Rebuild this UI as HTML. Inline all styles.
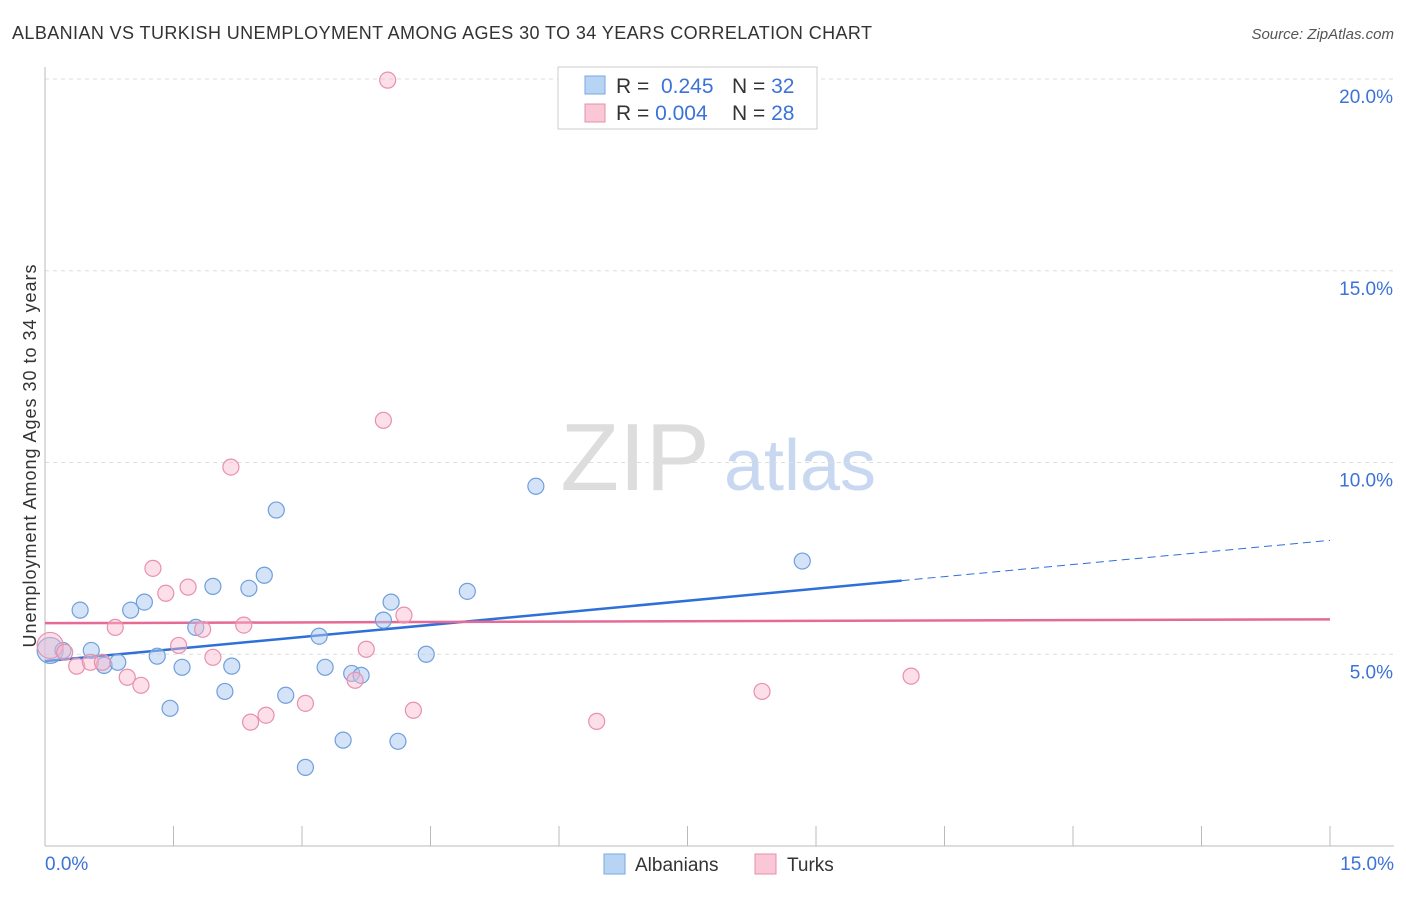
<!DOCTYPE html>
<html><head><meta charset="utf-8"><style>
body{margin:0;background:#fff;font-family:"Liberation Sans",sans-serif;}
svg text{font-family:"Liberation Sans",sans-serif;}
</style></head><body>
<svg id="chart" width="1406" height="892" xmlns="http://www.w3.org/2000/svg">
<text x="12" y="39" font-size="18" fill="#333" textLength="860" lengthAdjust="spacing">ALBANIAN VS TURKISH UNEMPLOYMENT AMONG AGES 30 TO 34 YEARS CORRELATION CHART</text>
<text x="1394" y="39" font-size="15" fill="#555" font-style="italic" text-anchor="end">Source: ZipAtlas.com</text>
<text x="36" y="456" font-size="18" fill="#333" text-anchor="middle" textLength="383" lengthAdjust="spacing" transform="rotate(-90 36 456)">Unemployment Among Ages 30 to 34 years</text>
<text x="635" y="490" font-size="96" fill="#ddd" font-family="Liberation Serif" text-anchor="middle">ZIP</text>
<text x="800" y="490" font-size="72" fill="#c8d8f0" text-anchor="middle">atlas</text>
<g id="grid"></g><g id="axes"></g><g id="trend"></g><g id="points"></g>
<g>
<rect x="558" y="67" width="259" height="62" fill="#fff" stroke="#ccc"/>
<rect x="585" y="76" width="20" height="18" fill="#b8d4f5" stroke="#7aa7e0"/>
<rect x="585" y="104" width="20" height="18" fill="#f9c7d6" stroke="#e78fab"/>
<text x="616" y="93" font-size="21" fill="#333">R = <tspan fill="#3b73d6">&#160;0.245</tspan><tspan x="732">N = </tspan><tspan fill="#3b73d6">32</tspan></text>
<text x="616" y="120" font-size="21" fill="#333">R = <tspan fill="#3b73d6">0.004</tspan><tspan x="732">N = </tspan><tspan fill="#3b73d6">28</tspan></text>
</g>
<g>
<rect x="604" y="854" width="21" height="20" fill="#b8d4f5" stroke="#7aa7e0"/>
<text x="635" y="871" font-size="19" fill="#333">Albanians</text>
<rect x="755" y="854" width="21" height="20" fill="#f9c7d6" stroke="#e78fab"/>
<text x="787" y="871" font-size="19" fill="#333">Turks</text>
</g>
</svg>
<script>
const yTicks=[5,10,15,20];
const yTickLabels=["5.0%","10.0%","15.0%","20.0%"];
const xTickLabels=["0.0%","15.0%"];
const blueX=[0.06,0.21,0.41,0.54,0.69,0.85,1.00,1.16,1.31,1.46,1.60,1.76,1.96,2.10,2.18,2.38,2.56,2.70,2.81,3.04,3.20,3.27,3.48,3.58,3.69,3.95,4.04,4.12,4.45,4.93,5.73,8.84];
const blueY=[5.10,5.10,6.15,5.10,4.71,4.79,6.15,6.36,4.95,3.59,4.66,5.70,6.77,4.03,4.69,6.72,7.06,8.76,3.93,2.05,5.47,4.66,2.76,4.50,4.45,5.89,6.36,2.73,5.00,6.64,9.38,7.43];
const pinkX=[0.06,0.23,0.37,0.53,0.67,0.82,0.96,1.12,1.26,1.41,1.56,1.67,1.84,1.96,2.17,2.32,2.40,2.58,3.04,3.62,3.75,3.95,4.00,4.19,4.30,6.44,8.37,10.11];
const pinkY=[5.23,5.05,4.69,4.79,4.79,5.70,4.40,4.19,7.24,6.59,5.23,6.75,5.65,4.92,9.88,5.76,3.23,3.41,3.72,4.32,5.13,11.10,19.97,6.02,3.54,3.25,4.03,4.43];
const blueTrend=[4.82,7.97]; const blueSolidEnd=10.0;
const pinkTrend=[5.81,5.91];
const NS="http://www.w3.org/2000/svg";
const xs=v=>45+v/15*1285, ys=v=>846-v/20*767;
function mk(tag,attrs,parent){const e=document.createElementNS(NS,tag);for(const k in attrs)e.setAttribute(k,attrs[k]);document.getElementById(parent).appendChild(e);return e;}
yTicks.forEach((t,i)=>{
 const l=mk('line',{x1:45,x2:1394,y1:ys(t),y2:ys(t),stroke:'#ddd','stroke-dasharray':'4,4'},'grid');
 
 
 const tx=mk('text',{x:1393,y:ys(t)+24,'font-size':19,fill:'#3b73d6','text-anchor':'end'},'grid');tx.textContent=yTickLabels[i];
 
 
});
const ax=mk('line',{x1:45,x2:1394,y1:846,y2:846,stroke:'#bbb'},'axes');


const ay=mk('line',{x1:45,x2:45,y1:67,y2:846,stroke:'#bbb'},'axes');


for(let i=1;i<=10;i++){const t=mk('line',{x1:xs(i*1.5),x2:xs(i*1.5),y1:826,y2:846,stroke:'#bbb'},'axes');
 
 }
[[0,'start',45],[15,'end',1394]].forEach((a,i)=>{const t=mk('text',{x:a[2],y:870,'font-size':19,fill:'#3b73d6','text-anchor':a[1]},'axes');t.textContent=xTickLabels[i];
 
 });
const by=x=>blueTrend[0]+(blueTrend[1]-blueTrend[0])*x/15;
const py=x=>pinkTrend[0]+(pinkTrend[1]-pinkTrend[0])*x/15;
function pts(X,Y,fill,stroke,name){X.forEach((x,i)=>{const c=mk('circle',{cx:xs(x),cy:ys(Y[i]),r:i==0?13:8,fill:fill,stroke:stroke,'stroke-width':1.2},'points');
 
 });}
pts(blueX,blueY,'rgba(170,200,240,0.5)','#6f9fdc','albanian-point');
pts(pinkX,pinkY,'rgba(248,185,205,0.45)','#e890ad','turk-point');
const t1=mk('line',{x1:xs(0),y1:ys(by(0)),x2:xs(blueSolidEnd),y2:ys(by(blueSolidEnd)),stroke:'#2e6fd8','stroke-width':2.5},'trend');


const t2=mk('line',{x1:xs(blueSolidEnd),y1:ys(by(blueSolidEnd)),x2:xs(15),y2:ys(by(15)),stroke:'#2e6fd8','stroke-width':1,'stroke-dasharray':'8,5'},'trend');


const t3=mk('line',{x1:xs(0),y1:ys(py(0)),x2:xs(15),y2:ys(py(15)),stroke:'#e56a95','stroke-width':2.5},'trend');


</script>
</body></html>
